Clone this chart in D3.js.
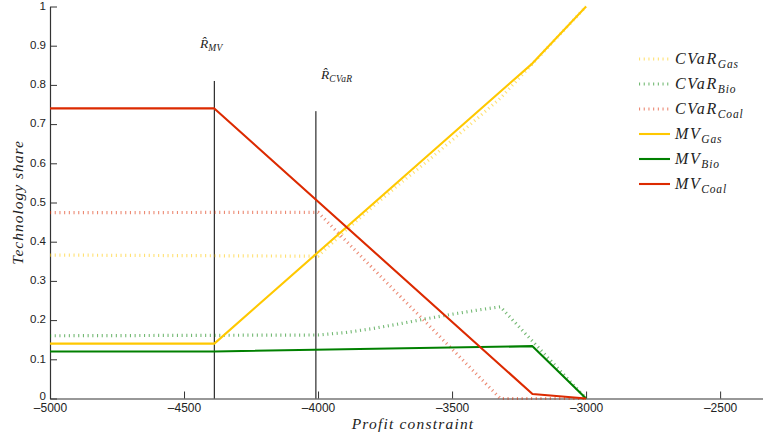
<!DOCTYPE html>
<html>
<head>
<meta charset="utf-8">
<script src="https://cdn.jsdelivr.net/npm/d3@7"></script>
<style>
  body { margin: 0; background: #fff; }
  svg { display: block; }
  .tick text { font-family: "Liberation Sans", Arial, sans-serif; font-size: 12px; fill: #222; }
  .math { font-family: "Liberation Serif", "DejaVu Serif", serif; font-style: italic; fill: #222; }
</style>
</head>
<body>
<svg id="chart" width="763" height="435"></svg>
<script>
// Axis ticks
const xTicks = [-5000, -4500, -4000, -3500, -3000, -2500];
const yTicks = [0, 0.1, 0.2, 0.3, 0.4, 0.5, 0.6, 0.7, 0.8, 0.9, 1];

// Mean-variance portfolio shares (breakpoints of the profit constraint)
const mvProfit = [-5000, -4387, -3200, -3000];
const mvGas    = [0.14, 0.14, 0.855, 1.0];
const mvBio    = [0.12, 0.12, 0.1335, 0.0];
const mvCoal   = [0.74, 0.74, 0.0115, 0.0];

// CVaR portfolio shares
const cvarProfit = [-5000, -4000, -3900, -3800, -3700, -3600, -3500, -3400, -3320, -3000];
const cvarGas    = [0.366, 0.363, 0.427, 0.487, 0.545, 0.601, 0.659, 0.718, 0.766, 1.0];
const cvarBio    = [0.160, 0.162, 0.168, 0.178, 0.190, 0.203, 0.215, 0.226, 0.234, 0.0];
const cvarCoal   = [0.474, 0.475, 0.405, 0.335, 0.265, 0.196, 0.126, 0.056, 0.0, 0.0];

// Minimum-return markers
const markerNames = ["MV", "CVaR"];
const markerProfit = [-4387, -4008];
const markerTop = [0.81, 0.733];

const colors = { Gas: "#ffc800", Bio: "#008000", Coal: "#dc2a00" };

const svg = d3.select("#chart");
const x = d3.scaleLinear().domain([-5000, -2340]).range([50, 763]);
const y = d3.scaleLinear().domain([0, 1]).range([398.5, 6.5]);

const fmtX = d => d < 0 ? "\u2013" + Math.abs(d) : String(d);

// Axes (ticks pointing inward)
const gx = svg.append("g").attr("transform", `translate(0,${y(0)})`)
  .call(d3.axisBottom(x).tickValues(xTicks).tickFormat(fmtX)
    .tickSizeInner(-7).tickSizeOuter(0).tickPadding(5));
const gy = svg.append("g").attr("transform", `translate(${x(-5000)},0)`)
  .call(d3.axisLeft(y).tickValues(yTicks).tickFormat(d3.format("~g"))
    .tickSizeInner(-7).tickSizeOuter(0).tickPadding(4));
gy.selectAll(".tick text").attr("dy", "0.25em").style("font-size", "11.5px");
gy.selectAll(".tick text").filter(d => d === 0).attr("dy", "0.05em");
[gx, gy].forEach(g => {
  g.selectAll(".domain").attr("stroke", "#333").attr("stroke-width", 1.2);
  g.selectAll(".tick line").attr("stroke", "#333");
});

const line = d3.line().x(d => x(d[0])).y(d => y(d[1]));
const zip = (a, b) => a.map((v, i) => [v, b[i]]);

const series = [
  { key: "Gas",  type: "CVaR", xs: cvarProfit, ys: cvarGas },
  { key: "Bio",  type: "CVaR", xs: cvarProfit, ys: cvarBio },
  { key: "Coal", type: "CVaR", xs: cvarProfit, ys: cvarCoal },
  { key: "Gas",  type: "MV",   xs: mvProfit,   ys: mvGas },
  { key: "Bio",  type: "MV",   xs: mvProfit,   ys: mvBio },
  { key: "Coal", type: "MV",   xs: mvProfit,   ys: mvCoal }
];

function styleLine(sel, s) {
  sel.attr("fill", "none").attr("stroke", colors[s.key]);
  if (s.type === "CVaR") {
    sel.attr("stroke-width", 3.2).attr("stroke-dasharray", "1.1,3.6")
       .attr("stroke-opacity", 0.55);
  } else {
    sel.attr("stroke-width", 2.1).attr("stroke-linejoin", "round");
  }
}

// Marker lines
markerProfit.forEach((p, i) => {
  svg.append("line")
    .attr("x1", x(p)).attr("x2", x(p))
    .attr("y1", y(0)).attr("y2", y(markerTop[i]))
    .attr("stroke", "#000").attr("stroke-width", 1);
});

series.forEach(s => {
  svg.append("path").datum(zip(s.xs, s.ys)).attr("d", line).call(styleLine, s);
});

// Marker labels: R-hat with subscript
const markerLabelPos = [[200, 48], [321, 79]];
markerNames.forEach((n, i) => {
  const t = svg.append("text").attr("class", "math")
    .attr("x", markerLabelPos[i][0]).attr("y", markerLabelPos[i][1])
    .attr("font-size", 13.5);
  t.append("tspan").text("R\u0302");
  t.append("tspan").attr("dy", 3).attr("font-size", 9.5).attr("letter-spacing", 0.4).text(n);
});

// Legend
const legend = svg.append("g");
series.forEach((s, i) => {
  const ly = 59 + i * 25;
  legend.append("line").attr("x1", 639).attr("x2", 670).attr("y1", ly).attr("y2", ly)
    .call(styleLine, s);
  const t = legend.append("text").attr("class", "math")
    .attr("x", 675).attr("y", ly + 5).attr("font-size", 16);
  t.append("tspan").attr("letter-spacing", 1.6).text(s.type === "CVaR" ? "CVaR" : "MV");
  t.append("tspan").attr("dy", 4).attr("font-size", 11.5).attr("letter-spacing", 0.8).text(s.key);
});

// Axis titles
svg.append("text").attr("class", "math").attr("font-size", 15.5)
  .attr("x", 413).attr("y", 429).attr("text-anchor", "middle")
  .attr("letter-spacing", 1.2)
  .text("Profit constraint");
svg.append("text").attr("class", "math").attr("font-size", 15.5)
  .attr("transform", `translate(23,${y(0.5)}) rotate(-90)`).attr("text-anchor", "middle")
  .attr("letter-spacing", 1.0)
  .text("Technology share");
</script>
</body>
</html>
